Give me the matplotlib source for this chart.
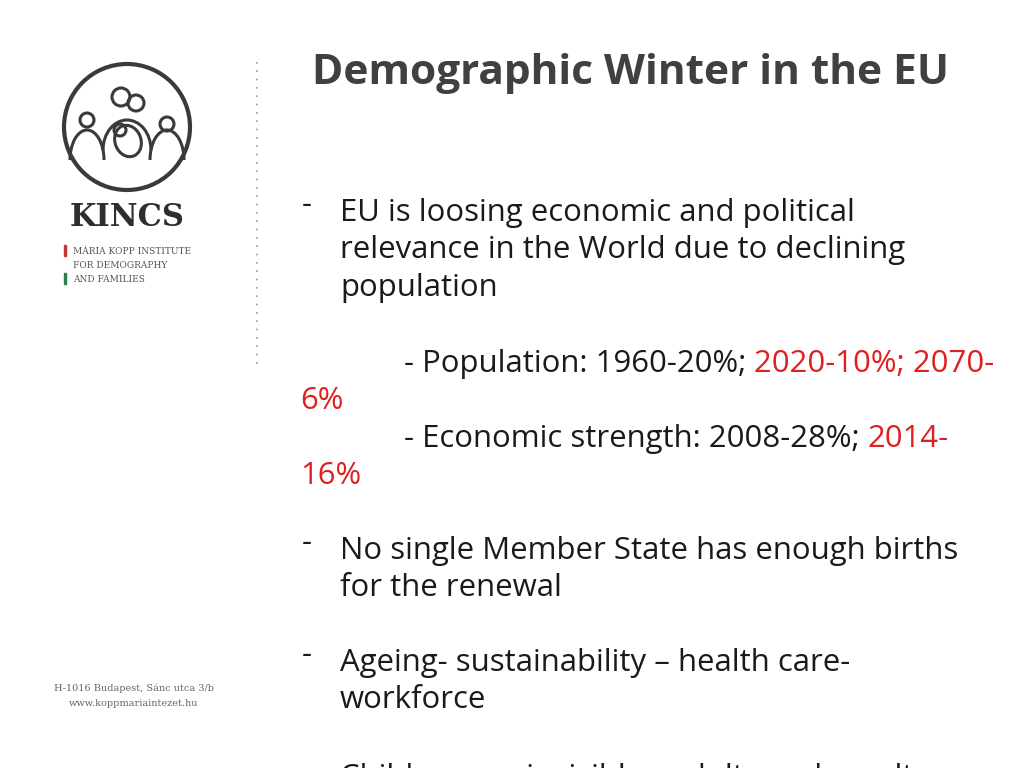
import matplotlib.pyplot as plt
from matplotlib.patches import Circle, Ellipse, Rectangle, Arc

plt.rcParams['font.family'] = ['Open Sans', 'DejaVu Sans']

W, H = 1024, 768
title = 'Demographic Winter in the EU'
bullets = [
    (213, 'EU is loosing economic and political'),
    (250, 'relevance in the World due to declining'),
    (288, 'population'),
    (551, 'No single Member State has enough births'),
    (588, 'for the renewal'),
    (663, 'Ageing- sustainability \u2013 health care-'),
    (700, 'workforce'),
    (778, 'Children are invisible - adults and results'),
]
dashes = [213, 551, 663, 778]
red = '#e02020'
dark = '#1a1a1a'
fs = 22.4

fig = plt.figure(figsize=(W / 100, H / 100), dpi=100)
ax = fig.add_axes([0, 0, 1, 1])
ax.set_xlim(0, W)
ax.set_ylim(H, 0)
ax.axis('off')

ax.text(630, 73, title, fontsize=30.5, fontweight='bold', color='#404040', ha='center', va='center')

for y in dashes:
    ax.text(302, y - 8, '-', fontsize=fs, color=dark, va='center')
for y, s in bullets:
    ax.text(340, y, s, fontsize=fs, color=dark, va='center')

# sub-bullets with red parts
t = ax.text(404, 364, '- Population: 1960-20%; ', fontsize=fs, color=dark, va='center')
ax.annotate('2020-10%; 2070-', xycoords=t, xy=(1, 0.5), va='center', fontsize=fs, color=red)
ax.text(300, 401, '6%', fontsize=fs, color=red, va='center')
t = ax.text(404, 439, '- Economic strength: 2008-28%; ', fontsize=fs, color=dark, va='center')
ax.annotate('2014-', xycoords=t, xy=(1, 0.5), va='center', fontsize=fs, color=red)
ax.text(300, 476, '16%', fontsize=fs, color=red, va='center')

# dotted separator
ax.plot([257, 257], [62, 365], color='#999999', lw=1.2, ls=(0, (1, 4)))

# logo
lc = '#3a3a3a'
ax.add_patch(Circle((127, 127), 63, fill=False, ec=lc, lw=3))
for cx, cy, r in [(87, 120, 7), (121, 97, 9), (136, 103, 8), (167, 124, 7), (120, 130, 6)]:
    ax.add_patch(Circle((cx, cy), r, fill=False, ec=lc, lw=2.2))
for cx, cy, w in [(87, 160, 34), (167, 160, 34), (127, 150, 48)]:
    ax.add_patch(Arc((cx, cy), w, 60, theta1=180, theta2=360, ec=lc, lw=2.2))
ax.add_patch(Ellipse((128, 141), 26, 32, angle=-20, fill=False, ec=lc, lw=2.2))
ax.text(127, 218, 'KINCS', fontsize=22, fontweight='bold', family='DejaVu Serif', color='#2e2e2e', ha='center', va='center')
ax.add_patch(Rectangle((64, 245), 2, 11, color='#c0392b'))
ax.add_patch(Rectangle((64, 273), 2, 11, color='#2e7d4f'))
for y, s in [(251, 'MÁRIA KOPP INSTITUTE'), (265, 'FOR DEMOGRAPHY'), (279, 'AND FAMILIES')]:
    ax.text(73, y, s, fontsize=6.5, family='DejaVu Serif', color='#555555', va='center')
ax.text(134, 688, 'H-1016 Budapest, Sánc utca 3/b', fontsize=7, family='DejaVu Serif', color='#666666', ha='center', va='center')
ax.text(134, 703, 'www.koppmariaintezet.hu', fontsize=7, family='DejaVu Serif', color='#666666', ha='center', va='center')

fig.savefig('out.png', dpi=100, facecolor='white')
